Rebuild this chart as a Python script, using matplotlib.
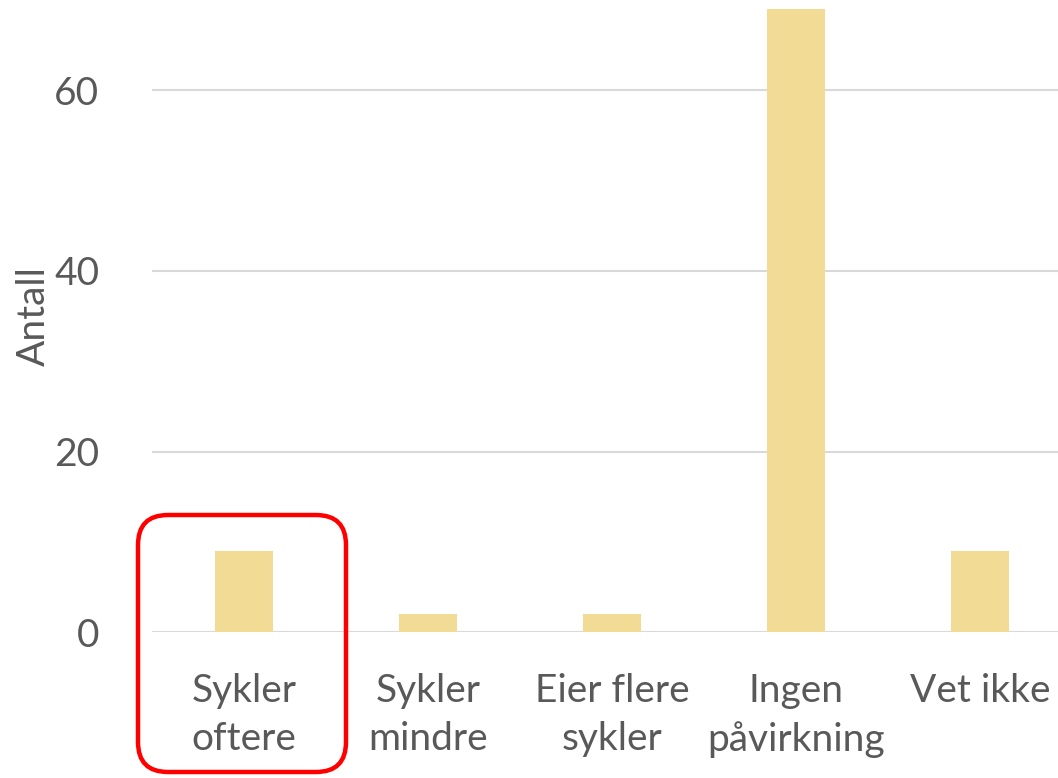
import matplotlib.pyplot as plt
from matplotlib.patches import FancyBboxPatch

categories = ["Sykler\noftere", "Sykler\nmindre", "Eier flere\nsykler", "Ingen\npåvirkning", "Vet ikke"]
counts = [9, 2, 2, 69, 9]
y_ticks = [0, 20, 40, 60]

plt.rcParams["font.family"] = ["Lato", "DejaVu Sans"]
text_color = "#595959"

fig = plt.figure(figsize=(10.58, 7.78), dpi=100)
# axes runs past the right edge, like the cropped original
ax = fig.add_axes([152 / 1058, 145.7 / 778, 920 / 1058, 632.3 / 778])

x = list(range(len(categories)))
ax.bar(x, counts, width=0.315, color="#F2DC95", zorder=2)

ax.set_xlim(-0.5, 4.5)
ax.set_ylim(0, 70)
ax.set_yticks(y_ticks)
ax.set_xticks(x)
ax.set_xticklabels(categories, linespacing=1.42)
ax.tick_params(axis="both", length=0, labelsize=28, labelcolor=text_color)
ax.tick_params(axis="y", pad=38)
ax.tick_params(axis="x", pad=29)
ax.grid(axis="y", color="#D9D9D9", linewidth=1.5, zorder=0)
for s in ax.spines.values():
    s.set_visible(False)

ax.set_ylabel("Antall", fontsize=28, color=text_color)
ax.yaxis.set_label_coords(-0.109, 0.5)

# red highlight round first category
box = FancyBboxPatch((1.38, 0.06), 2.08, 2.57,
                     boxstyle="round,pad=0,rounding_size=0.3",
                     transform=fig.dpi_scale_trans, fill=False,
                     edgecolor="#FF0000", linewidth=3.2)
fig.patches.append(box)

fig.savefig("out.png", dpi=100)
